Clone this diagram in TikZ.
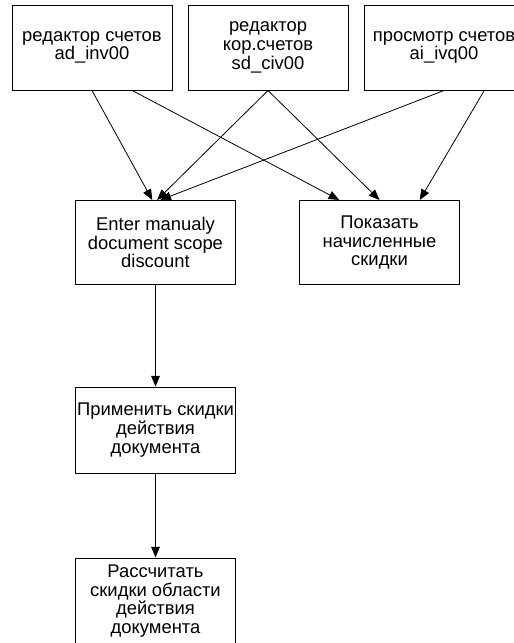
\documentclass[tikz,border=0pt]{standalone}
\usepackage{fontspec}
\setmainfont{Liberation Sans}
\usetikzlibrary{arrows.meta,calc}

\begin{document}
\begin{tikzpicture}[
    x=0.75pt, y=-0.75pt,
    every node/.style={font=\fontsize{13.8}{14}\selectfont},
    box/.style={rectangle, draw, line width=0.75pt, minimum width=120pt, minimum height=63.75pt, align=center, inner sep=1pt},
    arrow/.style={-{Triangle[length=8pt,width=6.5pt]}, line width=0.6pt},
]
\useasboundingbox (0,0) rectangle (514,643);

% --- TOP ROW: editors / viewer ---
\node[box] (inv) at (92,47.5) {редактор счетов\\ad\_inv00};
\node[box] (civ) at (268,47.5) {редактор\\кор.счетов\\sd\_civ00};
\node[box] (ivq) at (444,47.5) {просмотр счетов\\ai\_ivq00};

% --- MIDDLE ROW ---
\node[box, minimum height=63pt] (manual) at (155.5,242.5) {Enter manualy\\document scope\\discount};
\node[box, minimum height=63pt] (show) at (379.5,242.5) {Показать\\начисленные\\скидки};

% --- LOWER CHAIN ---
\node[box, minimum height=64.5pt] (apply) at (155.5,430) {Применить скидки\\действия\\документа};
\node[box, minimum height=64.5pt] (calc) at (155.5,601) {Рассчитать\\скидки области\\действия\\документа};

% Arrows into manual entry
\draw[arrow] (inv.south) -- ($(manual.north west)!0.48!(manual.north east)$);
\draw[arrow] (civ.south) -- ($(manual.north west)!0.51!(manual.north east)$);
\draw[arrow] (ivq.south) -- ($(manual.north west)!0.53!(manual.north east)$);

% Arrows into display of discounts
\draw[arrow] ($(inv.south west)!0.75!(inv.south east)$) -- ($(show.north west)!0.25!(show.north east)$);
\draw[arrow] (civ.south) -- (show.north);
\draw[arrow] ($(ivq.south west)!0.75!(ivq.south east)$) -- ($(show.north west)!0.75!(show.north east)$);

% Vertical flow
\draw[arrow] (manual) -- (apply);
\draw[arrow] (apply) -- (calc);

\end{tikzpicture}
\end{document}
